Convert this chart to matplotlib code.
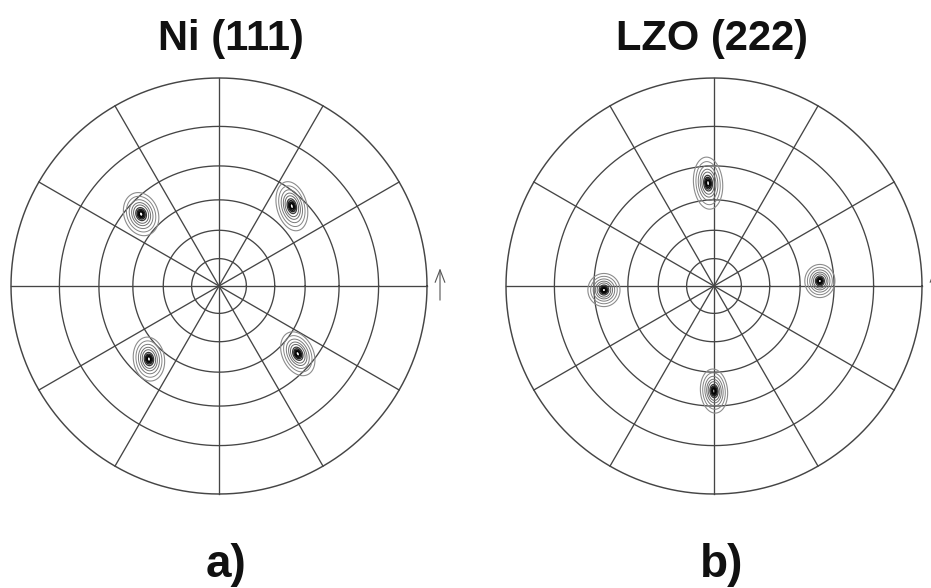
import numpy as np
import matplotlib
matplotlib.use("Agg")
import matplotlib.pyplot as plt

# ---- pole figure data -------------------------------------------------------
titles = ["Ni (111)", "LZO (222)"]
letters = ["a)", "b)"]

# tilt angle chi (deg) and azimuth phi (deg) of each pole
ni_chi = [54.0, 54.9, 51.9, 53.1]
ni_phi = [137.3, 47.6, 226.2, 319.3]
lzo_chi = [52.7, 54.0, 55.8, 53.6]
lzo_phi = [93.3, 2.7, 182.1, 270.0]

# spot spread (projected units) and ellipse tilt (deg)
ni_sx = [0.034, 0.030, 0.031, 0.031]
ni_sy = [0.044, 0.050, 0.044, 0.046]
ni_tilt = [20, 15, 8, 25]
lzo_sx = [0.029, 0.030, 0.032, 0.027]
lzo_sy = [0.052, 0.033, 0.033, 0.044]
lzo_tilt = [5, 0, 0, 5]

# polar net: rings of constant chi, spokes of constant phi
ring_chi = [15, 30, 45, 60, 75, 90]
spoke_phi = [0, 30, 60, 90, 120, 150, 180, 210, 240, 270, 300, 330]

# contour levels (fraction of peak), shades and widths
levels = [0.012, 0.03, 0.06, 0.10, 0.16, 0.32, 0.5, 0.68, 0.84]
level_colors = ["#8c8c8c", "#858585", "#7a7a7a", "#707070", "#666666",
                "#3a3a3a", "#222222", "#111111", "#000000"]
level_widths = [0.8, 0.7, 0.7, 0.7, 0.7, 0.9, 1.0, 1.1, 1.1]

# ---- layout -----------------------------------------------------------------
W, H = 931, 588
R = 208.0           # net radius in pixels
K = 1.15            # axes half-extent in net radii
centers = [(219.0, 286.0), (714.0, 286.0)]
title_x = [231, 712]
letter_x = [226, 722]

HALO = 0.22         # relative weight of the diffuse halo around each peak
CORE = 0.40         # core width as a fraction of the halo width

fig = plt.figure(figsize=(W / 100, H / 100), dpi=100)
fig.patch.set_facecolor("white")

net_color = "#454545"


def stereo(chi_deg):
    return np.tan(np.radians(chi_deg) / 2.0)


def pole_field(X, Y, chi, phi, sx, sy, tilt):
    Z = np.zeros_like(X)
    for c, p, a, b, t in zip(chi, phi, sx, sy, tilt):
        r = stereo(c)
        x0, y0 = r * np.cos(np.radians(p)), r * np.sin(np.radians(p))
        ct, st = np.cos(np.radians(t)), np.sin(np.radians(t))
        u = (X - x0) * ct + (Y - y0) * st
        v = -(X - x0) * st + (Y - y0) * ct
        q = (u / a) ** 2 + (v / b) ** 2
        Z += HALO * np.exp(-0.5 * q) + (1 - HALO) * np.exp(-0.5 * q / CORE ** 2)
    return Z


panels = [
    (ni_chi, ni_phi, ni_sx, ni_sy, ni_tilt),
    (lzo_chi, lzo_phi, lzo_sx, lzo_sy, lzo_tilt),
]

g = np.linspace(-K, K, 1400)
X, Y = np.meshgrid(g, g)
theta = np.linspace(0, 2 * np.pi, 1441)

for i, (cx, cy) in enumerate(centers):
    left = (cx - K * R) / W
    bottom = (H - cy - K * R) / H
    ax = fig.add_axes([left, bottom, 2 * K * R / W, 2 * K * R / H])
    ax.set_xlim(-K, K)
    ax.set_ylim(-K, K)
    ax.axis("off")

    for c in ring_chi:
        r = stereo(c)
        ax.plot(r * np.cos(theta), r * np.sin(theta), color=net_color,
                lw=0.95 if c < 90 else 1.05)
    for p in spoke_phi:
        ax.plot([0, np.cos(np.radians(p))], [0, np.sin(np.radians(p))],
                color=net_color, lw=0.95)

    chi, phi, sx, sy, tilt = panels[i]
    Z = pole_field(X, Y, chi, phi, sx, sy, tilt)
    ax.contour(X, Y, Z, levels=levels, colors=level_colors,
               linewidths=level_widths)

    # reference direction arrow
    ax.annotate("", xy=(1.0625, 0.085), xytext=(1.0625, -0.068),
                arrowprops=dict(arrowstyle="->,head_length=0.9,head_width=0.35",
                                color="#555555", lw=0.8, shrinkA=0, shrinkB=0))

    fig.text(title_x[i] / W, 1 - 50 / H, titles[i], ha="center", va="baseline",
             fontsize=30, fontweight="bold", family="Liberation Sans",
             color="#111111")
    fig.text(letter_x[i] / W, 1 - 577 / H, letters[i], ha="center",
             va="baseline", fontsize=33, fontweight="bold",
             family="Liberation Sans", color="#111111")

fig.savefig("out.png", dpi=100, facecolor="white")
